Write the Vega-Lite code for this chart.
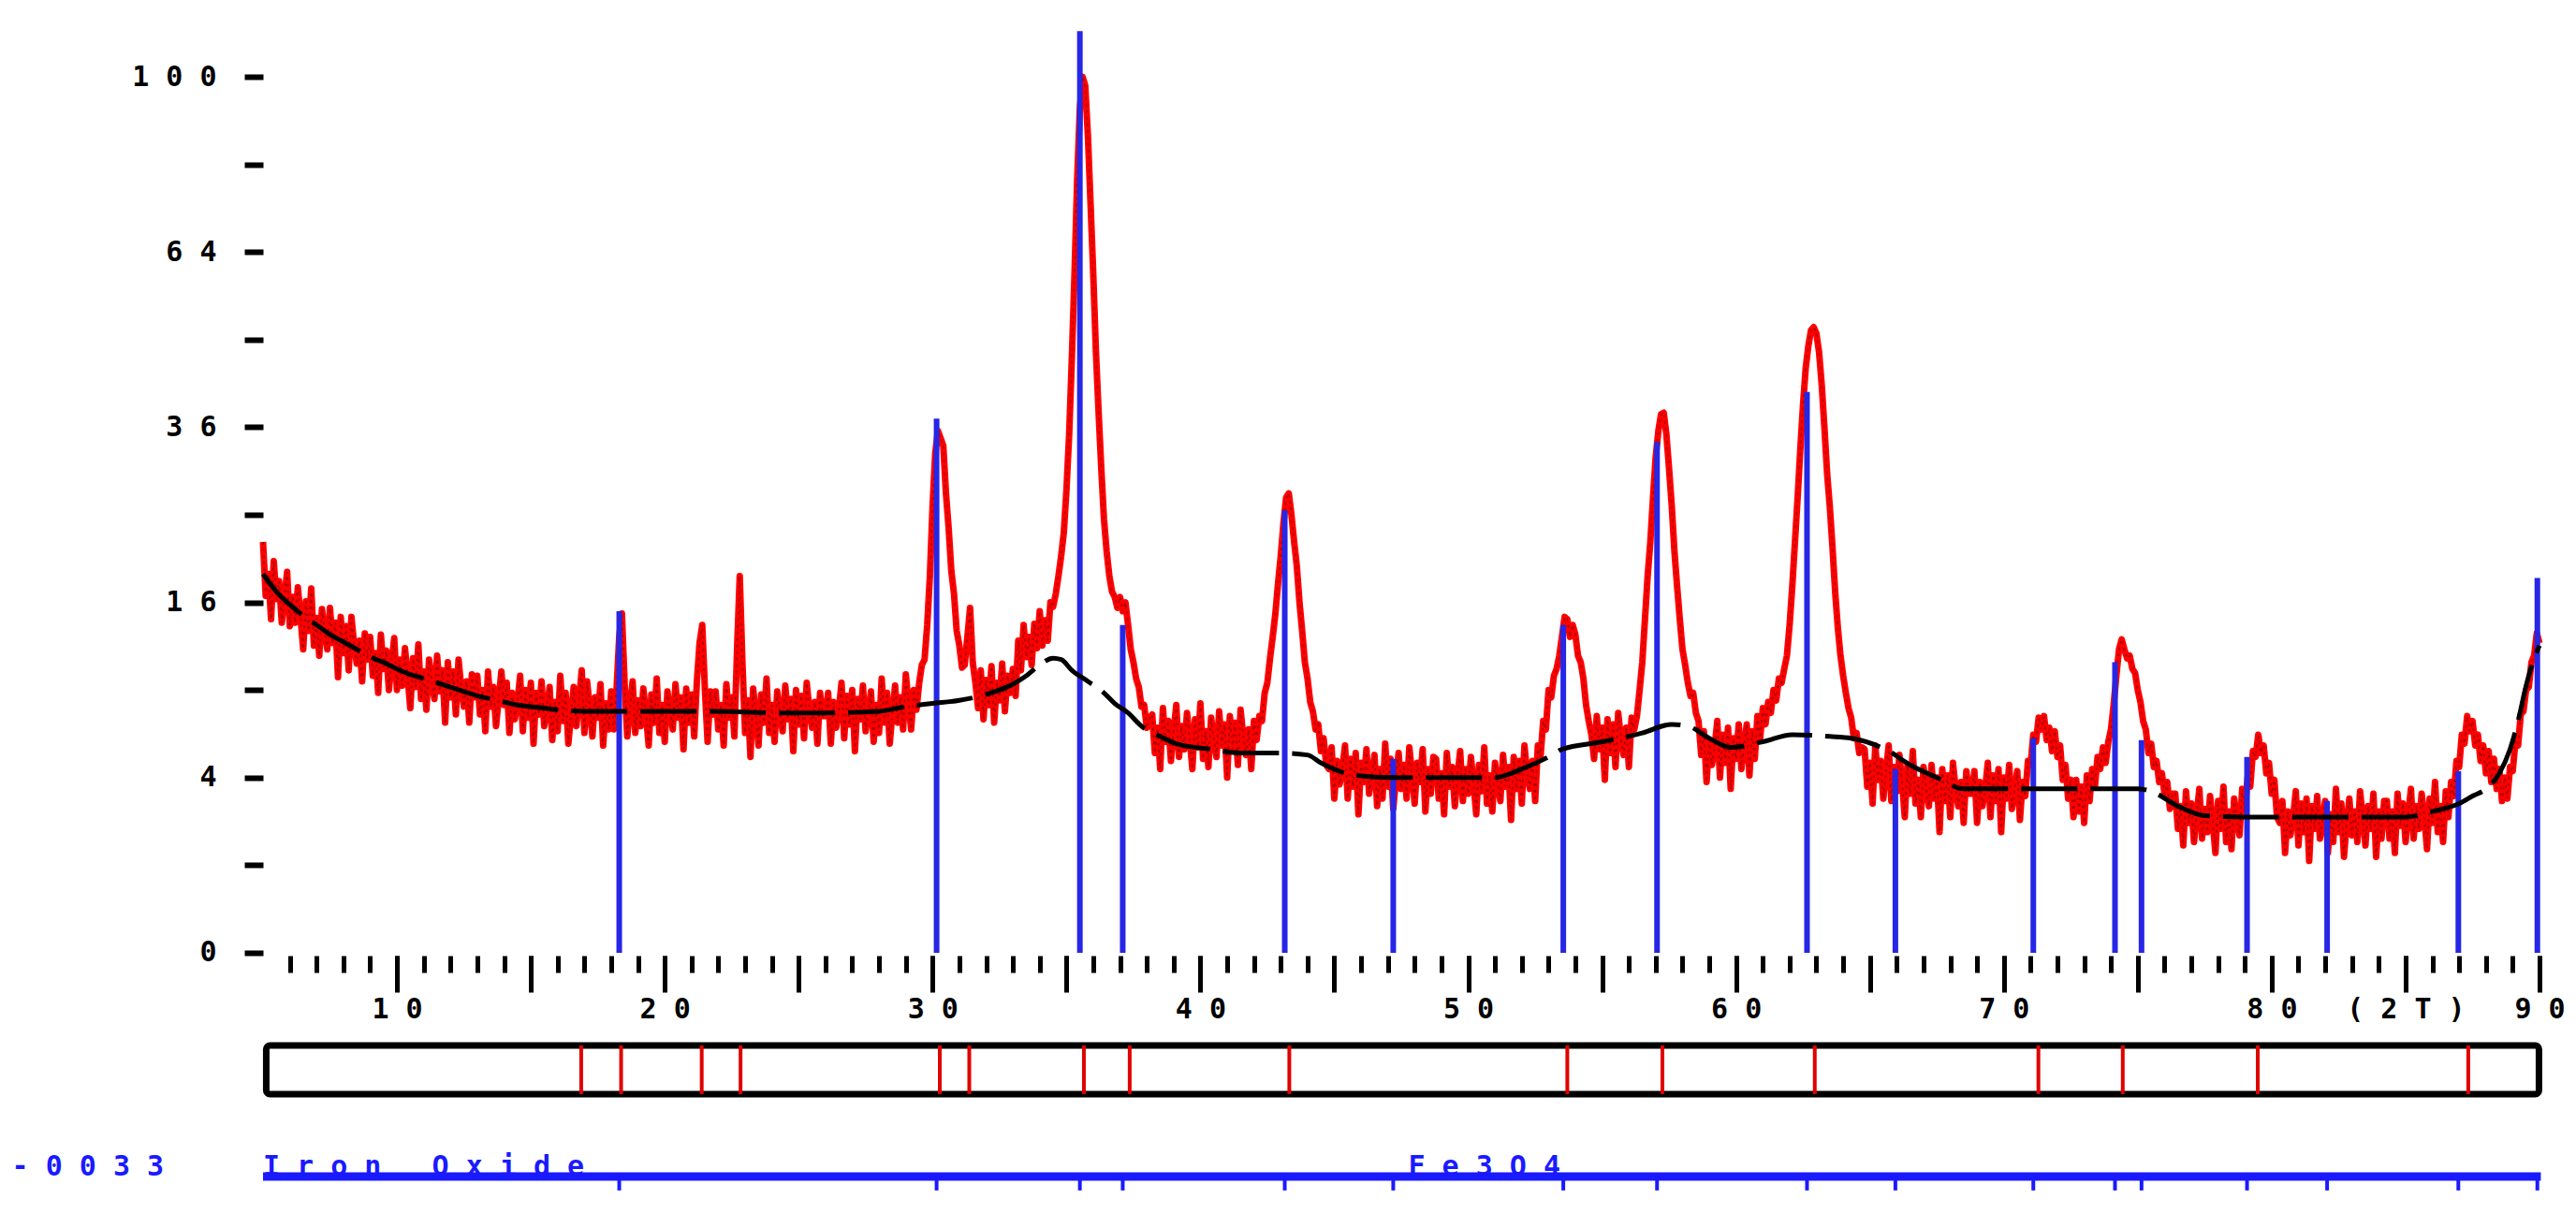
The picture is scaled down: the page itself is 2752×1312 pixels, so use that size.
{
"$schema": "https://vega.github.io/schema/vega-lite/v6.json",
"width": 2432,
"height": 1312,
"autosize": {"type": "none"},
"padding": {"left": 281, "right": 39, "top": 0, "bottom": 0},
"background": "white",
"config": {
  "view": {"stroke": null},
  "axis": {"grid": false, "domain": false, "title": null, "labelFont": "DejaVu Sans Mono", "labelFontWeight": "bold", "labelFontSize": 30, "labelColor": "#000000", "tickColor": "#000000", "labelOverlap": false, "labelFlush": false, "labelBound": false}
},
"resolve": {"axis": {"x": "independent", "y": "independent"}},
"datasets": {
"scan": [
{"t":5.0,"i":22.0},{"t":5.1,"i":16.6},{"t":5.2,"i":18.7},{"t":5.3,"i":14.5},{"t":5.4,"i":20.0},{"t":5.5,"i":16.3},{"t":5.6,"i":18.0},{"t":5.7,"i":14.2},{"t":5.8,"i":16.5},{"t":5.9,"i":18.9},
{"t":6.0,"i":13.9},{"t":6.1,"i":16.5},{"t":6.2,"i":14.2},{"t":6.3,"i":17.4},{"t":6.4,"i":14.7},{"t":6.5,"i":12.0},{"t":6.6,"i":16.1},{"t":6.7,"i":13.5},{"t":6.8,"i":17.3},{"t":6.9,"i":12.3},
{"t":7.0,"i":14.6},{"t":7.1,"i":11.5},{"t":7.2,"i":15.4},{"t":7.3,"i":13.5},{"t":7.4,"i":12.0},{"t":7.5,"i":15.5},{"t":7.6,"i":12.5},{"t":7.7,"i":14.2},{"t":7.8,"i":9.9},{"t":7.9,"i":14.7},
{"t":8.0,"i":11.7},{"t":8.1,"i":13.9},{"t":8.2,"i":10.4},{"t":8.3,"i":14.7},{"t":8.4,"i":12.4},{"t":8.5,"i":10.9},{"t":8.6,"i":12.7},{"t":8.7,"i":9.6},{"t":8.8,"i":13.3},{"t":8.9,"i":11.2},
{"t":9.0,"i":13.0},{"t":9.1,"i":10.0},{"t":9.2,"i":11.7},{"t":9.3,"i":8.8},{"t":9.4,"i":13.2},{"t":9.5,"i":10.5},{"t":9.6,"i":11.9},{"t":9.7,"i":9.0},{"t":9.8,"i":11.0},{"t":9.9,"i":12.9},
{"t":10.0,"i":9.0},{"t":10.1,"i":11.2},{"t":10.2,"i":9.3},{"t":10.3,"i":12.1},{"t":10.4,"i":9.9},{"t":10.5,"i":7.8},{"t":10.6,"i":11.3},{"t":10.7,"i":9.2},{"t":10.8,"i":12.4},{"t":10.9,"i":8.4},
{"t":11.0,"i":10.3},{"t":11.1,"i":7.7},{"t":11.2,"i":11.2},{"t":11.3,"i":9.6},{"t":11.4,"i":8.4},{"t":11.5,"i":11.5},{"t":11.6,"i":8.9},{"t":11.7,"i":10.4},{"t":11.8,"i":6.9},{"t":11.9,"i":11.0},
{"t":12.0,"i":8.5},{"t":12.1,"i":10.3},{"t":12.2,"i":7.4},{"t":12.3,"i":11.2},{"t":12.4,"i":9.2},{"t":12.5,"i":7.9},{"t":12.6,"i":9.6},{"t":12.7,"i":6.9},{"t":12.8,"i":10.1},{"t":12.9,"i":8.5},
{"t":13.0,"i":10.0},{"t":13.1,"i":7.4},{"t":13.2,"i":9.0},{"t":13.3,"i":6.4},{"t":13.4,"i":10.3},{"t":13.5,"i":7.9},{"t":13.6,"i":9.2},{"t":13.7,"i":6.7},{"t":13.8,"i":8.4},{"t":13.9,"i":10.3},
{"t":14.0,"i":8.0},{"t":14.1,"i":9.5},{"t":14.2,"i":6.3},{"t":14.3,"i":8.8},{"t":14.4,"i":7.1},{"t":14.5,"i":8.2},{"t":14.6,"i":10.0},{"t":14.7,"i":6.4},{"t":14.8,"i":9.0},{"t":14.9,"i":7.2},
{"t":15.0,"i":9.5},{"t":15.1,"i":5.7},{"t":15.2,"i":8.8},{"t":15.3,"i":7.4},{"t":15.4,"i":9.6},{"t":15.5,"i":6.7},{"t":15.6,"i":7.8},{"t":15.7,"i":9.2},{"t":15.8,"i":5.9},{"t":15.9,"i":8.2},
{"t":16.0,"i":6.4},{"t":16.1,"i":10.0},{"t":16.2,"i":7.0},{"t":16.3,"i":8.8},{"t":16.4,"i":5.7},{"t":16.5,"i":7.4},{"t":16.6,"i":9.2},{"t":16.7,"i":6.7},{"t":16.8,"i":8.3},{"t":16.9,"i":10.4},
{"t":17.0,"i":6.3},{"t":17.1,"i":9.6},{"t":17.2,"i":7.8},{"t":17.3,"i":6.1},{"t":17.4,"i":8.5},{"t":17.5,"i":7.2},{"t":17.6,"i":9.4},{"t":17.7,"i":5.6},{"t":17.8,"i":8.1},{"t":17.9,"i":6.5},
{"t":18.0,"i":8.9},{"t":18.1,"i":6.5},{"t":18.2,"i":9.0},{"t":18.3,"i":13.0},{"t":18.4,"i":15.0},{"t":18.5,"i":9.5},{"t":18.6,"i":6.1},{"t":18.7,"i":7.8},{"t":18.8,"i":9.6},{"t":18.9,"i":6.3},
{"t":19.0,"i":8.3},{"t":19.1,"i":6.7},{"t":19.2,"i":9.1},{"t":19.3,"i":7.4},{"t":19.4,"i":5.6},{"t":19.5,"i":8.7},{"t":19.6,"i":6.9},{"t":19.7,"i":9.8},{"t":19.8,"i":6.3},{"t":19.9,"i":8.0},
{"t":20.0,"i":5.8},{"t":20.1,"i":8.9},{"t":20.2,"i":7.6},{"t":20.3,"i":6.5},{"t":20.4,"i":9.4},{"t":20.5,"i":7.2},{"t":20.6,"i":8.5},{"t":20.7,"i":5.4},{"t":20.8,"i":9.1},{"t":20.9,"i":6.9},
{"t":21.0,"i":8.7},{"t":21.1,"i":6.1},{"t":21.2,"i":9.6},{"t":21.3,"i":12.5},{"t":21.4,"i":14.0},{"t":21.5,"i":9.0},{"t":21.6,"i":5.8},{"t":21.7,"i":8.9},{"t":21.8,"i":7.4},{"t":21.9,"i":8.9},
{"t":22.0,"i":6.5},{"t":22.1,"i":8.0},{"t":22.2,"i":5.6},{"t":22.3,"i":9.4},{"t":22.4,"i":7.2},{"t":22.5,"i":8.5},{"t":22.6,"i":6.1},{"t":22.7,"i":12.0},{"t":22.8,"i":18.5},{"t":22.9,"i":11.0},
{"t":23.0,"i":6.3},{"t":23.1,"i":8.3},{"t":23.2,"i":5.0},{"t":23.3,"i":9.1},{"t":23.4,"i":7.4},{"t":23.5,"i":5.6},{"t":23.6,"i":8.7},{"t":23.7,"i":6.9},{"t":23.8,"i":9.8},{"t":23.9,"i":6.3},
{"t":24.0,"i":8.0},{"t":24.1,"i":5.8},{"t":24.2,"i":8.9},{"t":24.3,"i":7.5},{"t":24.4,"i":6.4},{"t":24.5,"i":9.3},{"t":24.6,"i":7.1},{"t":24.7,"i":8.4},{"t":24.8,"i":5.3},{"t":24.9,"i":9.0},
{"t":25.0,"i":6.8},{"t":25.1,"i":8.6},{"t":25.2,"i":6.0},{"t":25.3,"i":9.5},{"t":25.4,"i":7.7},{"t":25.5,"i":6.6},{"t":25.6,"i":8.2},{"t":25.7,"i":5.7},{"t":25.8,"i":8.8},{"t":25.9,"i":7.3},
{"t":26.0,"i":7.3},{"t":26.1,"i":8.8},{"t":26.2,"i":5.7},{"t":26.3,"i":8.2},{"t":26.4,"i":6.6},{"t":26.5,"i":7.7},{"t":26.6,"i":9.5},{"t":26.7,"i":6.0},{"t":26.8,"i":8.6},{"t":26.9,"i":6.8},
{"t":27.0,"i":9.0},{"t":27.1,"i":5.3},{"t":27.2,"i":8.4},{"t":27.3,"i":7.1},{"t":27.4,"i":9.3},{"t":27.5,"i":6.4},{"t":27.6,"i":7.5},{"t":27.7,"i":8.9},{"t":27.8,"i":5.8},{"t":27.9,"i":8.0},
{"t":28.0,"i":6.3},{"t":28.1,"i":9.8},{"t":28.2,"i":6.9},{"t":28.3,"i":8.8},{"t":28.4,"i":5.7},{"t":28.5,"i":7.5},{"t":28.6,"i":9.3},{"t":28.7,"i":6.9},{"t":28.8,"i":8.5},{"t":28.9,"i":6.5},
{"t":29.0,"i":10.1},{"t":29.1,"i":8.2},{"t":29.2,"i":6.5},{"t":29.3,"i":9.0},{"t":29.4,"i":7.7},{"t":29.5,"i":9.5},{"t":29.6,"i":10.8},{"t":29.7,"i":11.2},{"t":29.8,"i":14.0},{"t":29.9,"i":18.5},
{"t":30.0,"i":26.0},{"t":30.1,"i":32.5},{"t":30.2,"i":35.5},{"t":30.3,"i":34.5},{"t":30.4,"i":33.5},{"t":30.5,"i":27.5},{"t":30.6,"i":23.5},{"t":30.7,"i":19.0},{"t":30.8,"i":16.8},{"t":30.9,"i":13.5},
{"t":31.0,"i":12.3},{"t":31.1,"i":10.6},{"t":31.2,"i":10.8},{"t":31.3,"i":13.0},{"t":31.4,"i":15.5},{"t":31.5,"i":11.0},{"t":31.6,"i":9.5},{"t":31.7,"i":7.8},{"t":31.8,"i":10.4},{"t":31.9,"i":7.1},
{"t":32.0,"i":9.7},{"t":32.1,"i":8.0},{"t":32.2,"i":10.7},{"t":32.3,"i":6.9},{"t":32.4,"i":9.5},{"t":32.5,"i":8.3},{"t":32.6,"i":10.9},{"t":32.7,"i":7.6},{"t":32.8,"i":10.0},{"t":32.9,"i":8.8},
{"t":33.0,"i":10.5},{"t":33.1,"i":8.6},{"t":33.2,"i":12.7},{"t":33.3,"i":10.4},{"t":33.4,"i":14.0},{"t":33.5,"i":11.4},{"t":33.6,"i":13.0},{"t":33.7,"i":10.8},{"t":33.8,"i":14.1},{"t":33.9,"i":12.1},
{"t":34.0,"i":15.2},{"t":34.1,"i":12.3},{"t":34.2,"i":14.4},{"t":34.3,"i":12.7},{"t":34.4,"i":16.0},{"t":34.5,"i":15.6},{"t":34.6,"i":16.8},{"t":34.7,"i":18.5},{"t":34.8,"i":20.5},{"t":34.9,"i":23.0},
{"t":35.0,"i":28.0},{"t":35.1,"i":35.0},{"t":35.2,"i":46.0},{"t":35.3,"i":60.0},{"t":35.4,"i":78.0},{"t":35.5,"i":93.0},{"t":35.6,"i":100.0},{"t":35.7,"i":98.0},{"t":35.8,"i":87.0},{"t":35.9,"i":73.0},
{"t":36.0,"i":60.0},{"t":36.1,"i":47.0},{"t":36.2,"i":38.0},{"t":36.3,"i":30.5},{"t":36.4,"i":24.5},{"t":36.5,"i":21.0},{"t":36.6,"i":18.5},{"t":36.7,"i":17.0},{"t":36.8,"i":16.5},{"t":36.9,"i":15.5},
{"t":37.0,"i":16.5},{"t":37.1,"i":15.2},{"t":37.2,"i":16.0},{"t":37.3,"i":14.0},{"t":37.4,"i":12.0},{"t":37.5,"i":11.0},{"t":37.6,"i":9.8},{"t":37.7,"i":9.2},{"t":37.8,"i":7.9},{"t":37.9,"i":8.0},
{"t":38.0,"i":6.6},{"t":38.1,"i":7.2},{"t":38.2,"i":7.4},{"t":38.3,"i":5.2},{"t":38.4,"i":6.6},{"t":38.5,"i":4.4},{"t":38.6,"i":7.8},{"t":38.7,"i":5.8},{"t":38.8,"i":7.0},{"t":38.9,"i":4.8},
{"t":39.0,"i":6.4},{"t":39.1,"i":8.0},{"t":39.2,"i":5.0},{"t":39.3,"i":6.7},{"t":39.4,"i":5.4},{"t":39.5,"i":7.5},{"t":39.6,"i":6.0},{"t":39.7,"i":4.4},{"t":39.8,"i":7.1},{"t":39.9,"i":5.5},
{"t":40.0,"i":8.1},{"t":40.1,"i":4.9},{"t":40.2,"i":6.4},{"t":40.3,"i":4.5},{"t":40.4,"i":7.2},{"t":40.5,"i":6.0},{"t":40.6,"i":5.0},{"t":40.7,"i":7.6},{"t":40.8,"i":5.6},{"t":40.9,"i":6.8},
{"t":41.0,"i":4.0},{"t":41.1,"i":7.3},{"t":41.2,"i":5.4},{"t":41.3,"i":6.9},{"t":41.4,"i":4.6},{"t":41.5,"i":7.7},{"t":41.6,"i":6.1},{"t":41.7,"i":5.1},{"t":41.8,"i":6.5},{"t":41.9,"i":4.4},
{"t":42.0,"i":7.0},{"t":42.1,"i":5.9},{"t":42.2,"i":7.3},{"t":42.3,"i":7.0},{"t":42.4,"i":8.8},{"t":42.5,"i":9.5},{"t":42.6,"i":11.3},{"t":42.7,"i":13.0},{"t":42.8,"i":15.0},{"t":42.9,"i":17.8},
{"t":43.0,"i":20.5},{"t":43.1,"i":24.0},{"t":43.2,"i":27.0},{"t":43.3,"i":27.5},{"t":43.4,"i":25.0},{"t":43.5,"i":22.0},{"t":43.6,"i":19.5},{"t":43.7,"i":16.0},{"t":43.8,"i":13.5},{"t":43.9,"i":11.0},
{"t":44.0,"i":9.8},{"t":44.1,"i":8.2},{"t":44.2,"i":7.6},{"t":44.3,"i":6.5},{"t":44.4,"i":6.8},{"t":44.5,"i":5.3},{"t":44.6,"i":6.0},{"t":44.7,"i":4.6},{"t":44.8,"i":4.4},{"t":44.9,"i":5.5},
{"t":45.0,"i":3.1},{"t":45.1,"i":4.8},{"t":45.2,"i":3.7},{"t":45.3,"i":4.4},{"t":45.4,"i":5.6},{"t":45.5,"i":3.1},{"t":45.6,"i":4.9},{"t":45.7,"i":3.6},{"t":45.8,"i":5.2},{"t":45.9,"i":2.5},
{"t":46.0,"i":4.7},{"t":46.1,"i":3.8},{"t":46.2,"i":5.4},{"t":46.3,"i":3.3},{"t":46.4,"i":4.1},{"t":46.5,"i":5.1},{"t":46.6,"i":2.8},{"t":46.7,"i":4.4},{"t":46.8,"i":3.1},{"t":46.9,"i":5.7},
{"t":47.0,"i":3.6},{"t":47.1,"i":4.9},{"t":47.2,"i":2.7},{"t":47.3,"i":3.9},{"t":47.4,"i":5.2},{"t":47.5,"i":3.5},{"t":47.6,"i":4.6},{"t":47.7,"i":3.1},{"t":47.8,"i":5.5},{"t":47.9,"i":4.2},
{"t":48.0,"i":2.9},{"t":48.1,"i":4.7},{"t":48.2,"i":3.8},{"t":48.3,"i":5.4},{"t":48.4,"i":2.6},{"t":48.5,"i":4.4},{"t":48.6,"i":3.3},{"t":48.7,"i":5.0},{"t":48.8,"i":4.9},{"t":48.9,"i":3.1},
{"t":49.0,"i":4.2},{"t":49.1,"i":2.5},{"t":49.2,"i":5.2},{"t":49.3,"i":3.6},{"t":49.4,"i":4.5},{"t":49.5,"i":2.8},{"t":49.6,"i":4.1},{"t":49.7,"i":5.3},{"t":49.8,"i":3.0},{"t":49.9,"i":4.4},
{"t":50.0,"i":3.3},{"t":50.1,"i":5.0},{"t":50.2,"i":3.7},{"t":50.3,"i":2.5},{"t":50.4,"i":4.6},{"t":50.5,"i":3.4},{"t":50.6,"i":5.5},{"t":50.7,"i":2.9},{"t":50.8,"i":4.1},{"t":50.9,"i":2.6},
{"t":51.0,"i":4.7},{"t":51.1,"i":3.8},{"t":51.2,"i":3.0},{"t":51.3,"i":5.1},{"t":51.4,"i":3.6},{"t":51.5,"i":4.5},{"t":51.6,"i":2.3},{"t":51.7,"i":5.0},{"t":51.8,"i":3.5},{"t":51.9,"i":4.8},
{"t":52.0,"i":2.9},{"t":52.1,"i":5.6},{"t":52.2,"i":4.2},{"t":52.3,"i":3.5},{"t":52.4,"i":4.8},{"t":52.5,"i":3.0},{"t":52.6,"i":5.6},{"t":52.7,"i":5.0},{"t":52.8,"i":7.0},{"t":52.9,"i":6.5},
{"t":53.0,"i":9.0},{"t":53.1,"i":8.5},{"t":53.2,"i":10.0},{"t":53.3,"i":10.5},{"t":53.4,"i":11.5},{"t":53.5,"i":13.0},{"t":53.6,"i":14.7},{"t":53.7,"i":14.5},{"t":53.8,"i":13.0},{"t":53.9,"i":14.0},
{"t":54.0,"i":13.2},{"t":54.1,"i":11.5},{"t":54.2,"i":11.0},{"t":54.3,"i":9.8},{"t":54.4,"i":8.0},{"t":54.5,"i":7.0},{"t":54.6,"i":6.2},{"t":54.7,"i":4.9},{"t":54.8,"i":7.3},{"t":54.9,"i":5.4},
{"t":55.0,"i":6.6},{"t":55.1,"i":3.9},{"t":55.2,"i":7.1},{"t":55.3,"i":5.2},{"t":55.4,"i":6.8},{"t":55.5,"i":4.5},{"t":55.6,"i":7.5},{"t":55.7,"i":6.0},{"t":55.8,"i":5.1},{"t":55.9,"i":6.6},
{"t":56.0,"i":4.5},{"t":56.1,"i":7.2},{"t":56.2,"i":6.5},{"t":56.3,"i":7.3},{"t":56.4,"i":9.0},{"t":56.5,"i":11.0},{"t":56.6,"i":14.5},{"t":56.7,"i":18.5},{"t":56.8,"i":22.0},{"t":56.9,"i":27.0},
{"t":57.0,"i":32.0},{"t":57.1,"i":35.5},{"t":57.2,"i":37.8},{"t":57.3,"i":38.0},{"t":57.4,"i":35.0},{"t":57.5,"i":30.5},{"t":57.6,"i":26.0},{"t":57.7,"i":21.0},{"t":57.8,"i":17.5},{"t":57.9,"i":14.5},
{"t":58.0,"i":12.0},{"t":58.1,"i":10.8},{"t":58.2,"i":9.5},{"t":58.3,"i":8.6},{"t":58.4,"i":8.8},{"t":58.5,"i":7.5},{"t":58.6,"i":7.0},{"t":58.7,"i":5.1},{"t":58.8,"i":6.4},{"t":58.9,"i":3.8},
{"t":59.0,"i":5.9},{"t":59.1,"i":4.6},{"t":59.2,"i":5.5},{"t":59.3,"i":7.0},{"t":59.4,"i":4.0},{"t":59.5,"i":6.2},{"t":59.6,"i":4.7},{"t":59.7,"i":6.6},{"t":59.8,"i":3.5},{"t":59.9,"i":6.0},
{"t":60.0,"i":4.9},{"t":60.1,"i":6.8},{"t":60.2,"i":4.4},{"t":60.3,"i":5.6},{"t":60.4,"i":6.8},{"t":60.5,"i":4.1},{"t":60.6,"i":6.4},{"t":60.7,"i":4.9},{"t":60.8,"i":7.3},{"t":60.9,"i":6.0},
{"t":61.0,"i":7.8},{"t":61.1,"i":6.8},{"t":61.2,"i":8.2},{"t":61.3,"i":7.5},{"t":61.4,"i":9.0},{"t":61.5,"i":8.3},{"t":61.6,"i":9.8},{"t":61.7,"i":9.5},{"t":61.8,"i":10.5},{"t":61.9,"i":11.5},
{"t":62.0,"i":14.0},{"t":62.1,"i":17.5},{"t":62.2,"i":22.0},{"t":62.3,"i":27.0},{"t":62.4,"i":33.0},{"t":62.5,"i":39.0},{"t":62.6,"i":44.5},{"t":62.7,"i":48.0},{"t":62.8,"i":50.5},{"t":62.9,"i":51.0},
{"t":63.0,"i":50.0},{"t":63.1,"i":47.0},{"t":63.2,"i":42.0},{"t":63.3,"i":36.0},{"t":63.4,"i":30.0},{"t":63.5,"i":26.0},{"t":63.6,"i":21.5},{"t":63.7,"i":17.0},{"t":63.8,"i":13.8},{"t":63.9,"i":11.5},
{"t":64.0,"i":10.0},{"t":64.1,"i":8.8},{"t":64.2,"i":7.8},{"t":64.3,"i":7.2},{"t":64.4,"i":6.0},{"t":64.5,"i":6.3},{"t":64.6,"i":5.2},{"t":64.7,"i":5.5},{"t":64.8,"i":5.4},{"t":64.9,"i":3.6},
{"t":65.0,"i":4.7},{"t":65.1,"i":2.9},{"t":65.2,"i":5.6},{"t":65.3,"i":3.9},{"t":65.4,"i":4.8},{"t":65.5,"i":3.1},{"t":65.6,"i":4.3},{"t":65.7,"i":5.6},{"t":65.8,"i":3.0},{"t":65.9,"i":4.5},
{"t":66.0,"i":3.4},{"t":66.1,"i":5.1},{"t":66.2,"i":3.8},{"t":66.3,"i":2.4},{"t":66.4,"i":4.6},{"t":66.5,"i":3.3},{"t":66.6,"i":5.3},{"t":66.7,"i":2.9},{"t":66.8,"i":3.9},{"t":66.9,"i":2.4},
{"t":67.0,"i":4.5},{"t":67.1,"i":3.5},{"t":67.2,"i":2.8},{"t":67.3,"i":4.6},{"t":67.4,"i":3.1},{"t":67.5,"i":4.0},{"t":67.6,"i":1.9},{"t":67.7,"i":4.4},{"t":67.8,"i":3.0},{"t":67.9,"i":4.1},
{"t":68.0,"i":2.4},{"t":68.1,"i":4.7},{"t":68.2,"i":3.5},{"t":68.3,"i":2.8},{"t":68.4,"i":3.8},{"t":68.5,"i":2.2},{"t":68.6,"i":4.3},{"t":68.7,"i":3.3},{"t":68.8,"i":3.3},{"t":68.9,"i":4.3},
{"t":69.0,"i":2.2},{"t":69.1,"i":3.8},{"t":69.2,"i":2.8},{"t":69.3,"i":3.5},{"t":69.4,"i":4.7},{"t":69.5,"i":2.4},{"t":69.6,"i":4.1},{"t":69.7,"i":3.0},{"t":69.8,"i":4.4},{"t":69.9,"i":1.9},
{"t":70.0,"i":4.0},{"t":70.1,"i":3.1},{"t":70.2,"i":4.6},{"t":70.3,"i":2.7},{"t":70.4,"i":3.4},{"t":70.5,"i":4.3},{"t":70.6,"i":2.3},{"t":70.7,"i":3.8},{"t":70.8,"i":3.2},{"t":70.9,"i":4.8},
{"t":71.0,"i":4.6},{"t":71.1,"i":6.2},{"t":71.2,"i":5.8},{"t":71.3,"i":7.2},{"t":71.4,"i":6.5},{"t":71.5,"i":7.3},{"t":71.6,"i":5.9},{"t":71.7,"i":6.6},{"t":71.8,"i":5.3},{"t":71.9,"i":6.4},
{"t":72.0,"i":5.0},{"t":72.1,"i":5.6},{"t":72.2,"i":3.9},{"t":72.3,"i":4.6},{"t":72.4,"i":3.1},{"t":72.5,"i":3.9},{"t":72.6,"i":2.4},{"t":72.7,"i":3.9},{"t":72.8,"i":2.6},{"t":72.9,"i":3.6},
{"t":73.0,"i":2.2},{"t":73.1,"i":4.1},{"t":73.2,"i":3.0},{"t":73.3,"i":4.4},{"t":73.4,"i":3.6},{"t":73.5,"i":5.0},{"t":73.6,"i":4.4},{"t":73.7,"i":5.5},{"t":73.8,"i":4.7},{"t":73.9,"i":5.8},
{"t":74.0,"i":6.5},{"t":74.1,"i":8.0},{"t":74.2,"i":10.0},{"t":74.3,"i":12.0},{"t":74.4,"i":12.8},{"t":74.5,"i":12.0},{"t":74.6,"i":11.3},{"t":74.7,"i":11.5},{"t":74.8,"i":10.5},{"t":74.9,"i":10.2},
{"t":75.0,"i":9.0},{"t":75.1,"i":8.2},{"t":75.2,"i":7.0},{"t":75.3,"i":6.5},{"t":75.4,"i":5.2},{"t":75.5,"i":5.7},{"t":75.6,"i":4.5},{"t":75.7,"i":4.8},{"t":75.8,"i":3.8},{"t":75.9,"i":4.2},
{"t":76.0,"i":3.3},{"t":76.1,"i":3.8},{"t":76.2,"i":2.7},{"t":76.3,"i":3.3},{"t":76.4,"i":3.3},{"t":76.5,"i":2.0},{"t":76.6,"i":2.8},{"t":76.7,"i":1.5},{"t":76.8,"i":3.4},{"t":76.9,"i":2.2},
{"t":77.0,"i":2.9},{"t":77.1,"i":1.6},{"t":77.2,"i":2.5},{"t":77.3,"i":3.5},{"t":77.4,"i":1.7},{"t":77.5,"i":2.7},{"t":77.6,"i":1.9},{"t":77.7,"i":3.2},{"t":77.8,"i":2.2},{"t":77.9,"i":1.3},
{"t":78.0,"i":3.0},{"t":78.1,"i":2.0},{"t":78.2,"i":3.6},{"t":78.3,"i":1.6},{"t":78.4,"i":2.6},{"t":78.5,"i":1.4},{"t":78.6,"i":3.1},{"t":78.7,"i":2.3},{"t":78.8,"i":1.8},{"t":78.9,"i":3.5},
{"t":79.0,"i":2.6},{"t":79.1,"i":4.0},{"t":79.2,"i":3.6},{"t":79.3,"i":5.3},{"t":79.4,"i":5.0},{"t":79.5,"i":6.2},{"t":79.6,"i":5.2},{"t":79.7,"i":5.6},{"t":79.8,"i":4.2},{"t":79.9,"i":4.7},
{"t":80.0,"i":3.3},{"t":80.1,"i":3.9},{"t":80.2,"i":2.4},{"t":80.3,"i":2.2},{"t":80.4,"i":3.0},{"t":80.5,"i":1.3},{"t":80.6,"i":2.6},{"t":80.7,"i":1.8},{"t":80.8,"i":2.4},{"t":80.9,"i":3.4},
{"t":81.0,"i":1.5},{"t":81.1,"i":2.9},{"t":81.2,"i":1.9},{"t":81.3,"i":3.1},{"t":81.4,"i":1.1},{"t":81.5,"i":2.8},{"t":81.6,"i":2.0},{"t":81.7,"i":3.2},{"t":81.8,"i":1.7},{"t":81.9,"i":2.3},
{"t":82.0,"i":3.0},{"t":82.1,"i":1.3},{"t":82.2,"i":2.5},{"t":82.3,"i":1.6},{"t":82.4,"i":3.5},{"t":82.5,"i":1.9},{"t":82.6,"i":2.9},{"t":82.7,"i":1.2},{"t":82.8,"i":2.2},{"t":82.9,"i":3.1},
{"t":83.0,"i":1.8},{"t":83.1,"i":2.6},{"t":83.2,"i":1.6},{"t":83.3,"i":3.4},{"t":83.4,"i":2.4},{"t":83.5,"i":1.5},{"t":83.6,"i":2.8},{"t":83.7,"i":2.0},{"t":83.8,"i":3.3},{"t":83.9,"i":1.2},
{"t":84.0,"i":2.6},{"t":84.1,"i":1.7},{"t":84.2,"i":3.0},{"t":84.3,"i":3.0},{"t":84.4,"i":1.7},{"t":84.5,"i":2.6},{"t":84.6,"i":1.3},{"t":84.7,"i":3.3},{"t":84.8,"i":2.1},{"t":84.9,"i":2.9},
{"t":85.0,"i":1.6},{"t":85.1,"i":2.5},{"t":85.2,"i":3.5},{"t":85.3,"i":1.7},{"t":85.4,"i":2.8},{"t":85.5,"i":2.0},{"t":85.6,"i":3.3},{"t":85.7,"i":2.4},{"t":85.8,"i":1.4},{"t":85.9,"i":3.1},
{"t":86.0,"i":2.2},{"t":86.1,"i":3.8},{"t":86.2,"i":1.9},{"t":86.3,"i":2.8},{"t":86.4,"i":1.6},{"t":86.5,"i":3.4},{"t":86.6,"i":2.4},{"t":86.7,"i":3.8},{"t":86.8,"i":3.2},{"t":86.9,"i":4.8},
{"t":87.0,"i":4.5},{"t":87.1,"i":6.2},{"t":87.2,"i":5.7},{"t":87.3,"i":7.3},{"t":87.4,"i":6.4},{"t":87.5,"i":7.0},{"t":87.6,"i":5.6},{"t":87.7,"i":6.2},{"t":87.8,"i":4.8},{"t":87.9,"i":5.6},
{"t":88.0,"i":4.2},{"t":88.1,"i":5.3},{"t":88.2,"i":3.8},{"t":88.3,"i":4.9},{"t":88.4,"i":3.5},{"t":88.5,"i":4.4},{"t":88.6,"i":3.0},{"t":88.7,"i":4.0},{"t":88.8,"i":3.1},{"t":88.9,"i":4.5},
{"t":89.0,"i":4.3},{"t":89.1,"i":5.8},{"t":89.2,"i":5.6},{"t":89.3,"i":7.4},{"t":89.4,"i":7.6},{"t":89.5,"i":9.0},{"t":89.6,"i":9.2},{"t":89.7,"i":11.0},{"t":89.8,"i":11.5},{"t":89.9,"i":13.3},
{"t":90.0,"i":12.5}
],
"bg": [
{"t":5,"i":18.7},{"t":5.5,"i":17.0},{"t":6,"i":15.8},{"t":6.5,"i":14.8},{"t":7,"i":14.0},{"t":7.5,"i":13.2},{"t":8,"i":12.6},{"t":8.5,"i":12.0},{"t":9,"i":11.4},{"t":9.5,"i":11.0},
{"t":10,"i":10.5},{"t":10.5,"i":10.1},{"t":11,"i":9.8},{"t":11.5,"i":9.5},{"t":12,"i":9.2},{"t":12.5,"i":8.9},{"t":13,"i":8.6},{"t":13.5,"i":8.4},{"t":14,"i":8.2},{"t":14.5,"i":8.0},
{"t":15,"i":7.9},{"t":15.5,"i":7.8},{"t":16,"i":7.7},{"t":17,"i":7.6},{"t":18,"i":7.6},{"t":20,"i":7.6},{"t":22,"i":7.6},{"t":24,"i":7.5},{"t":26,"i":7.5},{"t":28,"i":7.6},
{"t":29,"i":7.9},{"t":30,"i":8.1},{"t":31,"i":8.3},{"t":32,"i":8.7},{"t":33,"i":9.4},{"t":33.5,"i":10.0},{"t":34,"i":10.8},{"t":34.5,"i":11.3},{"t":34.8,"i":11.2},{"t":35.2,"i":10.4},
{"t":35.8,"i":9.6},{"t":36.4,"i":8.8},{"t":36.8,"i":8.1},{"t":37.3,"i":7.5},{"t":37.8,"i":6.7},{"t":38.5,"i":6.1},{"t":39.1,"i":5.7},{"t":40.4,"i":5.4},{"t":41.5,"i":5.2},{"t":43,"i":5.2},
{"t":44,"i":5.1},{"t":44.5,"i":4.7},{"t":45.8,"i":4.1},{"t":47.2,"i":4.0},{"t":49,"i":4.0},{"t":51,"i":4.0},{"t":52,"i":4.4},{"t":53,"i":5.0},{"t":53.5,"i":5.4},{"t":55,"i":5.8},
{"t":56.5,"i":6.3},{"t":57.6,"i":6.8},{"t":58.2,"i":6.7},{"t":59,"i":6.0},{"t":59.8,"i":5.5},{"t":61,"i":5.8},{"t":62.1,"i":6.2},{"t":63.5,"i":6.1},{"t":64.3,"i":6.0},{"t":65.7,"i":5.3},
{"t":66.5,"i":4.6},{"t":67.5,"i":4.0},{"t":68.5,"i":3.5},{"t":70,"i":3.5},{"t":72,"i":3.5},{"t":74,"i":3.5},{"t":75,"i":3.5},{"t":75.5,"i":3.4},{"t":76.5,"i":2.8},{"t":77.5,"i":2.45},
{"t":79,"i":2.4},{"t":82,"i":2.4},{"t":85,"i":2.4},{"t":86,"i":2.6},{"t":87,"i":2.9},{"t":87.5,"i":3.2},{"t":88,"i":3.5},{"t":88.5,"i":4.2},{"t":88.9,"i":5.4},{"t":89.2,"i":7.0},
{"t":89.5,"i":9.3},{"t":89.8,"i":11.3},{"t":90,"i":12.3}
],
"ref": [
{"t":18.3,"i":15.2},{"t":30.15,"i":37.2},{"t":35.5,"i":110.7},{"t":37.1,"i":14},{"t":43.15,"i":25.5},{"t":47.2,"i":4.9},{"t":53.55,"i":14},{"t":57.05,"i":34},{"t":62.65,"i":41},
{"t":65.95,"i":4.4},{"t":71.1,"i":6},{"t":74.15,"i":11},{"t":75.14,"i":5.9},{"t":79.08,"i":5},{"t":82.07,"i":3},{"t":86.97,"i":4.3},{"t":89.92,"i":18.3}
],
"peaks": [
{"t":16.88},{"t":18.37},{"t":21.38},{"t":22.83},{"t":30.27},{"t":31.37},{"t":35.65},{"t":37.36},{"t":43.32},{"t":53.7},{"t":57.25},{"t":62.94},{"t":71.29},{"t":74.44},{"t":79.48},{"t":87.34}
]
},
"layer": [
{
  "data": {"name": "scan"},
  "mark": {"type": "line", "color": "#ff0000", "strokeWidth": 7, "strokeJoin": "round"},
  "encoding": {
    "x": {"field": "t", "type": "quantitative", "scale": {"domain": [5, 90], "nice": false, "zero": false},
      "axis": {"orient": "bottom", "offset": -291, "values": [6,7,8,9,10,11,12,13,14,15,16,17,18,19,20,21,22,23,24,25,26,27,28,29,30,31,32,33,34,35,36,37,38,39,40,41,42,43,44,45,46,47,48,49,50,51,52,53,54,55,56,57,58,59,60,61,62,63,64,65,66,67,68,69,70,71,72,73,74,75,76,77,78,79,80,81,82,83,84,85,86,87,88,89,90], "tickSize": 18, "tickWidth": 5, "labels": false}},
    "y": {"field": "i", "type": "quantitative", "scale": {"type": "sqrt", "domain": [-9.87, 118.3], "nice": false, "zero": false},
      "axis": {"orient": "left", "values": [0,1,4,9,16,25,36,49,64,81,100], "tickSize": 20, "tickWidth": 6, "labelPadding": 30,
        "labelExpr": "datum.value == 100 ? '1 0 0' : datum.value == 64 ? '6 4' : datum.value == 36 ? '3 6' : datum.value == 16 ? '1 6' : datum.value == 4 ? '4' : datum.value == 0 ? '0' : ''"}}
  }
},
{
  "data": {"name": "scan"},
  "mark": {"type": "line", "color": "#5a0000", "strokeWidth": 2, "opacity": 0.45, "strokeDash": [3, 4]},
  "encoding": {
    "x": {"field": "t", "type": "quantitative", "axis": null},
    "y": {"field": "i", "type": "quantitative", "axis": null}
  }
},
{
  "data": {"name": "ref"},
  "mark": {"type": "rule", "color": "#2626e6", "strokeWidth": 6},
  "encoding": {
    "x": {"field": "t", "type": "quantitative",
      "axis": {"orient": "bottom", "offset": -291, "values": [10,15,20,25,30,35,40,45,50,55,60,65,70,75,80,85,90], "tickSize": 39, "tickWidth": 5, "labelPadding": 3,
        "labelExpr": "datum.value == 85 ? '( 2 T )' : datum.value % 10 == 0 ? floor(datum.value / 10) + ' 0' : ''"}},
    "y": {"field": "i", "type": "quantitative", "axis": null},
    "y2": {"datum": 0}
  }
},
{
  "data": {"name": "bg"},
  "mark": {"type": "line", "color": "#000000", "strokeWidth": 5, "strokeDash": [60, 14], "interpolate": "monotone"},
  "encoding": {
    "x": {"field": "t", "type": "quantitative", "axis": null},
    "y": {"field": "i", "type": "quantitative", "axis": null}
  }
},
{
  "data": {"values": [{}]},
  "mark": {"type": "rect", "fill": "#ffffff", "stroke": "#000000", "strokeWidth": 7, "cornerRadius": 4},
  "encoding": {
    "x": {"datum": 5.12, "type": "quantitative", "axis": null},
    "x2": {"datum": 89.98},
    "y": {"datum": -1.119, "type": "quantitative", "axis": null},
    "y2": {"datum": -2.602}
  }
},
{
  "data": {"name": "peaks"},
  "mark": {"type": "rule", "color": "#e00000", "strokeWidth": 4},
  "encoding": {
    "x": {"field": "t", "type": "quantitative", "axis": null},
    "y": {"datum": -1.119, "type": "quantitative", "axis": null},
    "y2": {"datum": -2.602}
  }
},
{
  "data": {"values": [{}]},
  "mark": {"type": "rule", "color": "#1a1aff", "strokeWidth": 9},
  "encoding": {
    "x": {"datum": 5, "type": "quantitative", "axis": null},
    "x2": {"datum": 90.05},
    "y": {"datum": -6.52, "type": "quantitative", "axis": null}
  }
},
{
  "data": {"name": "ref"},
  "mark": {"type": "rule", "color": "#1a1aff", "strokeWidth": 4},
  "encoding": {
    "x": {"field": "t", "type": "quantitative", "axis": null},
    "y": {"datum": -6.52, "type": "quantitative", "axis": null},
    "y2": {"datum": -7.36}
  }
},
{
  "data": {"values": [{}]},
  "mark": {"type": "text", "align": "left", "baseline": "alphabetic", "font": "DejaVu Sans Mono", "fontWeight": "bold", "fontSize": 30, "color": "#1a1aff", "text": "I r o n\u00a0\u00a0\u00a0O x i d e"},
  "encoding": {
    "x": {"datum": 5, "type": "quantitative", "axis": null},
    "y": {"datum": -6.47, "type": "quantitative", "axis": null}
  }
},
{
  "data": {"values": [{}]},
  "mark": {"type": "text", "align": "left", "baseline": "alphabetic", "font": "DejaVu Sans Mono", "fontWeight": "bold", "fontSize": 30, "color": "#1a1aff", "text": "F e 3 O 4"},
  "encoding": {
    "x": {"datum": 47.76, "type": "quantitative", "axis": null},
    "y": {"datum": -6.47, "type": "quantitative", "axis": null}
  }
},
{
  "data": {"values": [{}]},
  "mark": {"type": "text", "align": "right", "baseline": "alphabetic", "font": "DejaVu Sans Mono", "fontWeight": "bold", "fontSize": 30, "color": "#1a1aff", "text": "- 0 0 3 3"},
  "encoding": {
    "x": {"datum": 1.3, "type": "quantitative", "axis": null},
    "y": {"datum": -6.47, "type": "quantitative", "axis": null}
  }
}
]
}
